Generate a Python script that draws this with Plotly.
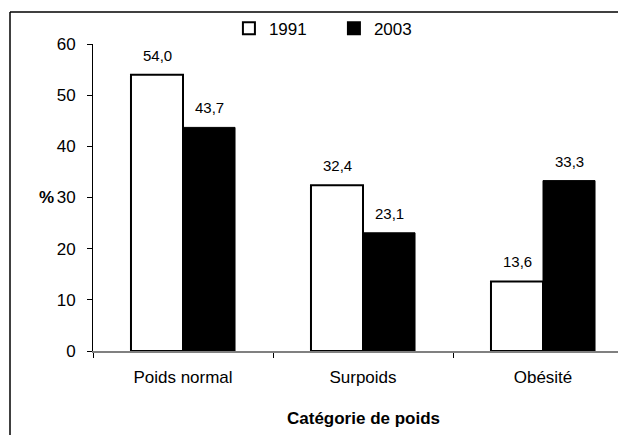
import plotly.graph_objects as go

categories = ["Poids normal", "Surpoids", "Obésité"]
values_1991 = [54.0, 32.4, 13.6]
values_2003 = [43.7, 23.1, 33.3]
y_ticks = [0, 10, 20, 30, 40, 50, 60]

FONT = "Liberation Sans, Arial, sans-serif"

fig = go.Figure()
fig.add_trace(go.Bar(
    name="1991", x=categories, y=values_1991,
    marker=dict(color="white", line=dict(color="black", width=2)),
))
fig.add_trace(go.Bar(
    name="2003", x=categories, y=values_2003,
    marker=dict(color="black", line=dict(color="black", width=1)),
))

def fmt(v):
    return f"{v:.1f}".replace(".", ",")

label_annotations = []
for series, shift in ((values_1991, -26), (values_2003, 26)):
    for cat, v in zip(categories, series):
        label_annotations.append(dict(
            text=fmt(v), xref="x", yref="y", x=cat, y=v, xshift=shift, yshift=9,
            xanchor="center", yanchor="bottom", showarrow=False,
            font=dict(size=15, color="black", family=FONT),
        ))

PLOT_H = 307
PLOT_W = 533
fig.update_layout(
    width=618, height=427,
    margin=dict(l=85, r=0, t=36, b=84, pad=0, autoexpand=False),
    paper_bgcolor="white", plot_bgcolor="white",
    font=dict(family=FONT, size=17, color="black"),
    separators=",.",
    barmode="group", bargap=0.422, bargroupgap=0,
    showlegend=True,
    legend=dict(orientation="h", x=0.255, y=1.05, xanchor="left", yanchor="middle",
                font=dict(size=17), bgcolor="rgba(0,0,0,0)",
                entrywidth=60, entrywidthmode="pixels", itemsizing="constant"),
    xaxis=dict(
        range=[-0.5, -0.5 + PLOT_W / 180],
        showline=True, linecolor="#808080", linewidth=2,
        ticks="outside", tickson="boundaries", ticklen=5, tickcolor="black",
        showgrid=False, zeroline=False,
        ticklabelstandoff=10,
    ),
    yaxis=dict(
        range=[0, 60], tickvals=y_ticks,
        showline=True, linecolor="black", linewidth=1,
        ticks="outside", ticklen=5, tickcolor="black",
        showgrid=False, zeroline=False,
        ticklabelstandoff=8,
    ),
    annotations=label_annotations + [
        dict(text="<b>Catégorie de poids</b>", xref="x", yref="paper", x=1, y=-67 / PLOT_H,
             xanchor="center", yanchor="middle", showarrow=False, font=dict(size=17)),
        dict(text="<b>%</b>", xref="paper", yref="y", x=-47 / PLOT_W, y=30,
             xanchor="center", yanchor="middle", showarrow=False, font=dict(size=17)),
    ],
    shapes=[
        dict(type="line", xref="paper", yref="paper",
             x0=-83 / PLOT_W, x1=1, y0=1 + 32 / PLOT_H, y1=1 + 32 / PLOT_H,
             line=dict(color="black", width=1.5)),
        dict(type="line", xref="paper", yref="paper",
             x0=-83 / PLOT_W, x1=-83 / PLOT_W, y0=-84 / PLOT_H, y1=1 + 32 / PLOT_H,
             line=dict(color="black", width=1.5)),
    ],
)

fig.write_html("out.html")
